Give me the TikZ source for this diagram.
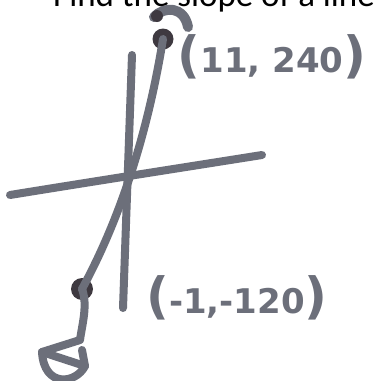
\documentclass[tikz,border=0pt]{standalone}
\usepackage{fontspec}
\setmainfont{Carlito}
\newfontfamily\handfont{DejaVu Sans}
\definecolor{ink}{RGB}{108,111,122}
\definecolor{darkink}{RGB}{62,57,64}
\newcommand{\bigparen}[1]{{\fontsize{50}{50}\selectfont #1}}
\begin{document}
\begin{tikzpicture}[x=1pt,y=-1pt,
  stroke/.style={draw=ink,line width=8pt,line cap=round,line join=round},
  pointdot/.style={circle,fill=darkink,inner sep=0pt,minimum size=#1},
  handlabel/.style={text=ink,font=\handfont\bfseries\fontsize{34}{34}\selectfont,inner sep=0pt}]
\useasboundingbox (0,0) rectangle (375,381);
\fill[white] (0,0) rectangle (375,381);
% title (cut off at the top, as in the reference)
\node[anchor=base west,inner sep=0pt,font=\fontsize{35}{35}\selectfont] (title) at (53,6) {Find the slope of a line t};
% axes
\coordinate (xl) at (10,195);
\coordinate (xr) at (262,155);
\coordinate (yt) at (132,55);
\coordinate (yb) at (123,308);
\draw[stroke] (xl) .. controls (90,182) and (180,168) .. (xr);
\draw[stroke] (yt) -- (yb);
% points
\node[pointdot=21pt] (tp) at (163,39) {};
\node[pointdot=22pt] (bp) at (82,289) {};
% line through the points
\draw[stroke] (tp.center) .. controls (150,120) and (125,210) .. (bp.center);
\draw[stroke] (bp.center) .. controls (88,305) and (82,325) .. (80,340) -- (42,352) -- (85,366);
\draw[stroke] (42,352) .. controls (44,388) and (76,384) .. (85,366) -- (82,350);
% top arrow cap
\draw[stroke,line width=10pt] (154,17) .. controls (164,6) and (184,6) .. (188,27);
\fill[darkink] (157,16) circle (6pt);
% labels
\node[handlabel] (lt) at (272,57) {\bigparen{(}11, 240\bigparen{)}};
\node[handlabel] (lb) at (237,298) {\bigparen{(}-1,-120\bigparen{)}};
\end{tikzpicture}
\end{document}
